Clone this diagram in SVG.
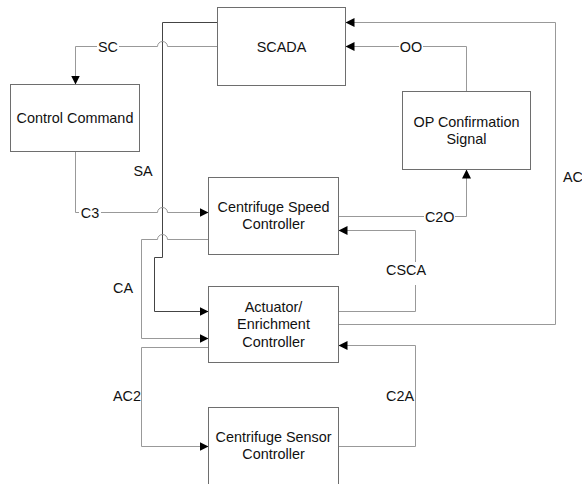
<svg xmlns="http://www.w3.org/2000/svg" width="582" height="484" viewBox="0 0 582 484">
<defs>
<style>
.box{fill:#fff;stroke:#6e6e6e;stroke-width:1}
.t{font-family:"Liberation Sans",Arial,sans-serif;font-size:14.4px;fill:#111;text-anchor:middle}
.c{fill:none;stroke:#999;stroke-width:1}
.sa{fill:none;stroke:#444;stroke-width:1}
.bg{fill:#fff}
</style>
<marker id="ah" viewBox="0 0 10 10" refX="10" refY="5" markerWidth="9" markerHeight="9" markerUnits="userSpaceOnUse" orient="auto">
<path d="M0,0 L10,5 L0,10 z" fill="#000"/>
</marker>
</defs>
<rect width="582" height="484" fill="#fff"/>
<g id="connectors">
<path class="sa" d="M217.5,22.5 H162.5 V257.5 H154.5 V311.5 H208.5" marker-end="url(#ah)"/>
<path class="c" d="M217.5,46.5 H167.5 A5,5 0 0 0 157.5,46.5 H75.5 V84.5" marker-end="url(#ah)"/>
<path class="c" d="M75.5,151.5 V212.5 H157.5 A5,5 0 0 1 167.5,212.5 H208.5" marker-end="url(#ah)"/>
<path class="c" d="M208.5,239.5 H167.5 A5,5 0 0 0 157.5,239.5 H141.5 V338.5 H208.5" marker-end="url(#ah)"/>
<path class="c" d="M338.5,216.5 H466.5 V169.5" marker-end="url(#ah)"/>
<path class="c" d="M466.5,91.5 V46.5 H345.5" marker-end="url(#ah)"/>
<path class="c" d="M338.5,324.5 H555.5 V22.5 H345.5" marker-end="url(#ah)"/>
<path class="c" d="M338.5,311.5 H415.5 V230.5 H338.5" marker-end="url(#ah)"/>
<path class="c" d="M208.5,347.5 H141.5 V446.5 H208.5" marker-end="url(#ah)"/>
<path class="c" d="M338.5,446.5 H415.5 V345.5 H338.5" marker-end="url(#ah)"/>
<g id="labels">
<rect class="bg" x="97" y="39" width="22" height="15"/>
<text class="t" x="108" y="51.5">SC</text>
<rect class="bg" x="399" y="39" width="24" height="15"/>
<text class="t" x="411" y="51.5">OO</text>
<rect class="bg" x="79" y="205" width="22" height="15"/>
<text class="t" x="90" y="217.5">C3</text>
<rect class="bg" x="424" y="209" width="31" height="15"/>
<text class="t" x="439.7" y="221.5">C2O</text>
<rect class="bg" x="385" y="262" width="42" height="23"/>
<text class="t" x="406" y="274.5">CSCA</text>
<text class="t" x="143" y="176">SA</text>
<text class="t" x="123" y="293">CA</text>
<text class="t" x="127" y="401">AC2</text>
<text class="t" x="400" y="401">C2A</text>
<text class="t" x="563" y="182" style="text-anchor:start">AC</text>
</g>
</g>
<g id="scada">
<rect class="box" x="217.5" y="7.5" width="128" height="78"/>
<text class="t" x="281.5" y="51.5">SCADA</text>
</g>
<g id="control-command">
<rect class="box" x="10.5" y="84.5" width="129" height="67"/>
<text class="t" x="75" y="123">Control Command</text>
</g>
<g id="op-confirmation">
<rect class="box" x="402.5" y="91.5" width="128" height="78"/>
<text class="t" x="466.5" y="126.5">OP Confirmation</text>
<text class="t" x="466.5" y="144">Signal</text>
</g>
<g id="speed-controller">
<rect class="box" x="208.5" y="177.5" width="130" height="77"/>
<text class="t" x="273.5" y="212">Centrifuge Speed</text>
<text class="t" x="273.5" y="229">Controller</text>
</g>
<g id="actuator">
<rect class="box" x="208.5" y="286.5" width="130" height="76"/>
<text class="t" x="273.5" y="311.5">Actuator/</text>
<text class="t" x="273.5" y="329">Enrichment</text>
<text class="t" x="273.5" y="346.5">Controller</text>
</g>
<g id="sensor-controller">
<rect class="box" x="208.5" y="407.5" width="130" height="90"/>
<text class="t" x="273.5" y="442">Centrifuge Sensor</text>
<text class="t" x="273.5" y="459">Controller</text>
</g>
</svg>
